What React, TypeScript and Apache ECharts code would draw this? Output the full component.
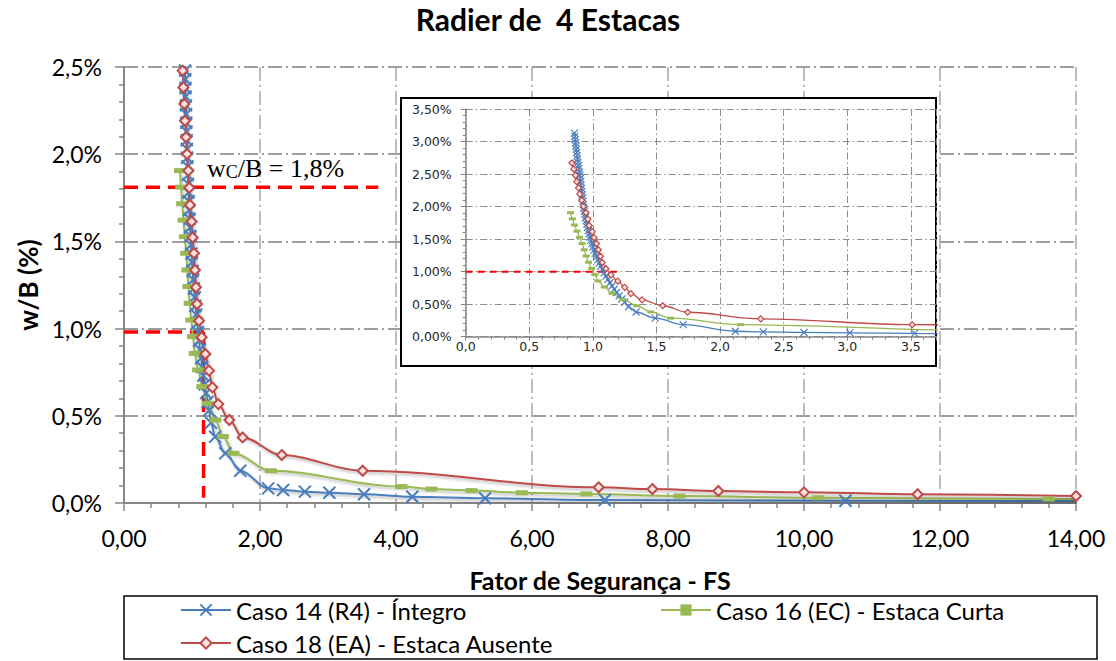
import React, { useEffect, useRef } from 'react';
import * as echarts from 'echarts';

const TITLE = 'Radier de  4 Estacas';
const X_NAME = 'Fator de Segurança - FS';
const Y_NAME = 'w/B (%)';
const NAME_14 = 'Caso 14 (R4) - Íntegro';
const NAME_16 = 'Caso 16 (EC) - Estaca Curta';
const NAME_18 = 'Caso 18 (EA) - Estaca Ausente';

// Caso 14 (R4) - Íntegro : FS vs w/B (%)
const fs14 = [0.855, 0.858, 0.861, 0.864, 0.867, 0.870, 0.873, 0.876, 0.879, 0.882, 0.886, 0.890, 0.894, 0.898, 0.901, 0.904, 0.907, 0.910, 0.913, 0.916, 0.919, 0.922, 0.925, 0.929, 0.933, 0.937, 0.942, 0.947, 0.952, 0.958, 0.964, 0.970, 0.977, 0.984, 0.992, 1.000, 1.009, 1.018, 1.028, 1.039, 1.050, 1.062, 1.075, 1.089, 1.103, 1.118, 1.134, 1.150, 1.168, 1.187, 1.207, 1.228, 1.25, 1.28, 1.34, 1.49, 1.71, 2.12, 2.34, 2.66, 3.02, 3.53, 4.24, 5.31, 7.07, 10.61, 21.2];
const wb14 = [3.13, 3.08, 3.03, 2.98, 2.93, 2.88, 2.83, 2.78, 2.73, 2.68, 2.63, 2.58, 2.53, 2.48, 2.43, 2.38, 2.33, 2.28, 2.23, 2.18, 2.13, 2.08, 2.03, 1.98, 1.93, 1.88, 1.83, 1.78, 1.73, 1.68, 1.63, 1.58, 1.53, 1.48, 1.43, 1.38, 1.33, 1.28, 1.23, 1.18, 1.13, 1.08, 1.03, 0.98, 0.93, 0.88, 0.83, 0.78, 0.73, 0.68, 0.63, 0.58, 0.53, 0.46, 0.38, 0.285, 0.185, 0.084, 0.075, 0.065, 0.059, 0.05, 0.036, 0.027, 0.017, 0.013, 0.006];

// Caso 16 (EC) - Estaca Curta
const fs16 = [0.824, 0.838, 0.855, 0.875, 0.895, 0.915, 0.932, 0.947, 0.966, 0.99, 1.015, 1.04, 1.09, 1.15, 1.235, 1.345, 1.455, 1.61, 2.16, 4.08, 4.52, 5.11, 5.85, 6.80, 8.17, 10.21, 13.6, 20.4];
const wb16 = [1.906, 1.811, 1.716, 1.622, 1.527, 1.432, 1.336, 1.241, 1.145, 1.049, 0.954, 0.858, 0.763, 0.667, 0.572, 0.476, 0.381, 0.285, 0.185, 0.094, 0.08, 0.071, 0.059, 0.052, 0.04, 0.03, 0.023, 0.015];

// Caso 18 (EA) - Estaca Ausente
const fs18 = [0.835, 0.85, 0.863, 0.873, 0.887, 0.897, 0.912, 0.926, 0.946, 0.961, 0.971, 0.995, 1.010, 1.029, 1.044, 1.059, 1.074, 1.103, 1.142, 1.196, 1.25, 1.299, 1.387, 1.549, 1.745, 2.32, 3.51, 6.98, 7.77, 8.74, 10.0, 11.67, 14.0];
const wb18 = [2.67, 2.575, 2.479, 2.383, 2.288, 2.192, 2.097, 2.001, 1.906, 1.808, 1.709, 1.614, 1.522, 1.432, 1.336, 1.237, 1.141, 1.045, 0.950, 0.854, 0.759, 0.663, 0.567, 0.476, 0.376, 0.275, 0.185, 0.09, 0.08, 0.069, 0.061, 0.05, 0.04];

// reference (dashed) lines: [FS, w/B %]
const refWc18 = [[0, 1.81], [3.74, 1.81]];
const refW10 = [[0, 0.98], [1.22, 0.98]];
const refFs = [[1.17, 0.98], [1.17, 0.03]];
const insetRef = [[0, 1.0], [1.22, 1.0]];

const ANNOT_MAIN = 'w';
const ANNOT_SUB = 'C';
const ANNOT_REST = '/B = 1,8%';

const zip = (xs: number[], ys: number[]) => xs.map((x, i) => [x, ys[i]]);

const BLUE = '#4a7ebb';
const GREEN = '#98b954';
const RED = '#be4b48';
const AX = '#868686';
const SANS = 'Lato';

const X_SYMBOL = 'path://M0,0L10,10M10,0L0,10';

function mainSeries(name: string, data: number[][], kind: 'x' | 'rect' | 'diamond', color: string) {
  const base: any = {
    type: 'line', name, data, xAxisIndex: 0, yAxisIndex: 0, smooth: 0.35, smoothMonotone: 'x',
    lineStyle: { color, width: 2, shadowColor: 'rgba(0,0,0,0.3)', shadowBlur: 3, shadowOffsetX: 1.5, shadowOffsetY: 2 },
    z: 3,
  };
  if (kind === 'x') {
    base.symbol = X_SYMBOL; base.symbolSize = 12;
    base.itemStyle = { color, borderColor: color, borderWidth: 2 };
  } else if (kind === 'rect') {
    base.symbol = 'rect'; base.symbolSize = [12, 5];
    base.itemStyle = { color, borderWidth: 0 };
  } else {
    base.symbol = 'diamond'; base.symbolSize = 10;
    base.itemStyle = { color: '#fbe3e2', borderColor: color, borderWidth: 2 };
  }
  return base;
}

function insetSeries(name: string, data: number[][], kind: 'x' | 'rect' | 'diamond', color: string) {
  const base: any = {
    type: 'line', name, data, xAxisIndex: 1, yAxisIndex: 1, smooth: 0.35, smoothMonotone: 'x',
    lineStyle: { color, width: 1.3 },
    z: 6,
  };
  if (kind === 'x') {
    base.symbol = X_SYMBOL; base.symbolSize = 7;
    base.itemStyle = { color, borderColor: color, borderWidth: 1.2 };
  } else if (kind === 'rect') {
    base.symbol = 'rect'; base.symbolSize = [7, 3];
    base.itemStyle = { color, borderWidth: 0 };
  } else {
    base.symbol = 'diamond'; base.symbolSize = 6;
    base.itemStyle = { color: '#fbe3e2', borderColor: color, borderWidth: 1.2 };
  }
  return base;
}

const dashLine = (data: number[][], xi: number, width: number, dash: number[], z: number) => ({
  type: 'line', data, xAxisIndex: xi, yAxisIndex: xi, symbol: 'none', silent: true, z,
  lineStyle: { color: '#ff0000', width, type: dash },
});

const fmt = (d: number, suffix = '') => (v: number) => v.toFixed(d).replace('.', ',') + suffix;

const legendText = { fontFamily: SANS, fontSize: 24, color: '#000' };
const legendBase = { itemWidth: 50, itemHeight: 14, textStyle: legendText, selectedMode: false, padding: 0 };

const option: any = {
  animation: false,
  backgroundColor: '#ffffff',
  grid: [
    { left: 124, top: 67, right: 40, bottom: 158 },
    { left: 465.7, top: 109, width: 470.6, height: 227.7 },
  ],
  legend: [
    { ...legendBase, data: [NAME_14], left: 180, top: 598 },
    { ...legendBase, data: [NAME_16], left: 660, top: 598 },
    { ...legendBase, data: [NAME_18], left: 180, top: 631 },
  ],
  xAxis: [
    {
      type: 'value', gridIndex: 0, min: 0, max: 14, interval: 2,
      axisLine: { show: true, onZero: false, lineStyle: { color: AX, width: 2 } },
      axisTick: { show: true, length: 8, lineStyle: { color: AX, width: 1.5 } },
      minorTick: { show: true, splitNumber: 5, length: 5, lineStyle: { color: AX, width: 1.5 } },
      axisLabel: { formatter: fmt(2), fontFamily: SANS, fontSize: 23, color: '#000', margin: 23 },
      splitLine: { show: true, lineStyle: { color: '#a6a6a6', width: 1.5, type: [14, 4, 2, 4] } },
      name: X_NAME, nameLocation: 'middle', nameGap: 64,
      nameTextStyle: { fontFamily: SANS, fontWeight: 'bold', fontSize: 25, color: '#000' },
    },
    {
      type: 'value', gridIndex: 1, min: 0, max: 3.7, interval: 0.5, z: 5,
      axisLine: { show: true, onZero: false, lineStyle: { color: AX, width: 1.5 } },
      axisTick: { show: true, length: 4, lineStyle: { color: AX } },
      minorTick: { show: true, splitNumber: 5, length: 3, lineStyle: { color: AX } },
      axisLabel: { formatter: fmt(1), fontFamily: 'DejaVu Sans', fontSize: 12.5, color: '#262626', margin: 3, showMaxLabel: false },
      splitLine: { show: true, lineStyle: { color: '#8c8c8c', width: 1, type: [7, 3, 1.5, 3] } },
    },
  ],
  yAxis: [
    {
      type: 'value', gridIndex: 0, min: 0, max: 2.5, interval: 0.5,
      axisLine: { show: true, onZero: false, lineStyle: { color: AX, width: 2 } },
      axisTick: { show: true, length: 9, lineStyle: { color: AX, width: 1.5 } },
      minorTick: { show: true, splitNumber: 5, length: 5, lineStyle: { color: AX, width: 1.5 } },
      axisLabel: { formatter: fmt(1, '%'), fontFamily: SANS, fontSize: 23, color: '#000', margin: 22 },
      splitLine: { show: true, lineStyle: { color: '#7f7f7f', width: 1.5, type: [14, 4, 2, 4] } },
      name: Y_NAME, nameLocation: 'middle', nameGap: 80,
      nameTextStyle: { fontFamily: SANS, fontWeight: 'bold', fontSize: 26, color: '#000' },
    },
    {
      type: 'value', gridIndex: 1, min: 0, max: 3.5, interval: 0.5, z: 5,
      axisLine: { show: true, onZero: false, lineStyle: { color: AX, width: 1.5 } },
      axisTick: { show: true, length: 5, lineStyle: { color: AX } },
      minorTick: { show: true, splitNumber: 5, length: 3, lineStyle: { color: AX } },
      axisLabel: { formatter: fmt(2, '%'), fontFamily: 'DejaVu Sans', fontSize: 12.5, color: '#262626', margin: 14 },
      splitLine: { show: true, lineStyle: { color: '#8c8c8c', width: 1, type: [7, 3, 1.5, 3] } },
    },
  ],
  graphic: [
    {
      type: 'text', x: 548, y: 4, z: 10,
      style: { text: TITLE, fontFamily: SANS, fontWeight: 'bold', fontSize: 30, fill: '#000', textAlign: 'center' },
    },
    {
      type: 'text', x: 207, y: 155, z: 10,
      style: {
        text: `{a|${ANNOT_MAIN}}{b|${ANNOT_SUB}}{a|${ANNOT_REST}}`,
        fill: '#000',
        rich: {
          a: { fontFamily: 'Liberation Serif', fontSize: 26, verticalAlign: 'bottom', fill: '#000' },
          b: { fontFamily: 'Liberation Serif', fontSize: 18, verticalAlign: 'bottom', fill: '#000' },
        },
      },
    },
    {
      type: 'rect', z: 1, shape: { x: 401, y: 98, width: 535, height: 268 },
      style: { fill: '#ffffff', stroke: '#000', lineWidth: 2 },
    },
    {
      type: 'rect', z: 1, shape: { x: 124, y: 596, width: 973, height: 63 },
      style: { fill: 'none', stroke: '#000', lineWidth: 1.5 },
    },
  ],
  series: [
    dashLine(refWc18, 0, 3.5, [14, 8], 2),
    dashLine(refW10, 0, 3.5, [14, 8], 2),
    dashLine(refFs, 0, 3.5, [14, 8], 2),
    mainSeries(NAME_14, zip(fs14, wb14), 'x', BLUE),
    mainSeries(NAME_16, zip(fs16, wb16), 'rect', GREEN),
    mainSeries(NAME_18, zip(fs18, wb18), 'diamond', RED),
    dashLine(insetRef, 1, 2, [7, 5], 6),
    insetSeries(NAME_14, zip(fs14, wb14), 'x', BLUE),
    insetSeries(NAME_16, zip(fs16, wb16), 'rect', GREEN),
    insetSeries(NAME_18, zip(fs18, wb18), 'diamond', RED),
  ],
};

export default function App() {
  const ref = useRef<HTMLDivElement>(null);
  useEffect(() => {
    document.body.style.margin = '0';
    const chart = echarts.init(ref.current!, null, { renderer: 'svg' });
    chart.setOption(option);
    return () => chart.dispose();
  }, []);
  return <div ref={ref} style={{ width: 1116, height: 661 }} />;
}
